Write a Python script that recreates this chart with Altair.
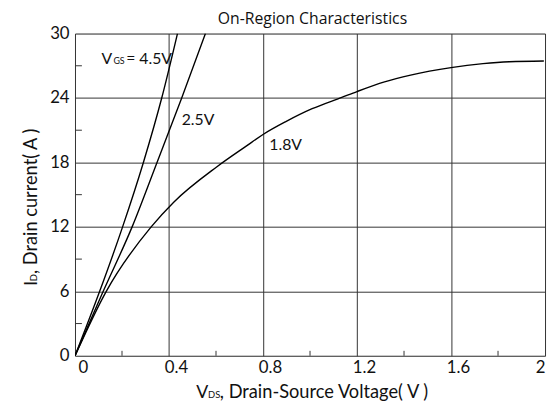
import altair as alt
import pandas as pd

# ---- data ----
vds_45 = [0, 0.105, 0.2025, 0.291, 0.369, 0.436]
id_45 = [0, 6, 12, 18, 24, 30]

vds_25 = [0, 0.120, 0.243, 0.349, 0.454, 0.555]
id_25 = [0, 6, 12, 18, 24, 30]

vds_18 = [0, 0.133, 0.324, 0.42, 0.604, 0.73, 0.8, 0.897, 1.009, 1.135, 1.2, 1.317, 1.428, 1.6, 1.736, 1.848, 1.995]
id_18 = [0, 6, 12, 14.3, 17.6, 19.54, 20.6, 21.8, 23.0, 24.05, 24.6, 25.5, 26.13, 26.83, 27.2, 27.38, 27.45]

x_ticks = [0, 0.4, 0.8, 1.2, 1.6, 2]
y_ticks = [0, 6, 12, 18, 24, 30]
x_minor = [0.2, 0.6, 1.0, 1.4, 1.8]
y_minor = [3, 9, 15, 21, 27]

label_text = ["2.5V", "1.8V"]
label_x = [0.454, 0.827]
label_y = [21.5, 19.15]

vgs_x = [0.113]
vgs_y = [27.2]

W, H = 477, 327
FONT = "Lato"

rows = []
for name, xs, ys in [("4.5V", vds_45, id_45), ("2.5V", vds_25, id_25), ("1.8V", vds_18, id_18)]:
    for a, b in zip(xs, ys):
        rows.append({"series": name, "vds": a, "id": b})
df = pd.DataFrame(rows)

xscale = alt.Scale(domain=[0, 2], nice=False, zero=False)
yscale = alt.Scale(domain=[0, 30], nice=False, zero=False)

xaxis = alt.Axis(values=x_ticks, title=None, grid=True, gridColor="#333", gridWidth=1, format="~g",
                 ticks=False, domain=False, labelFont=FONT, labelFontSize=17, labelColor="#111",
                 labelPadding=4, labelFlush=True,
                 labelOffset={"expr": "datum.value == 0 ? 3 : (datum.value >= 2 ? 0 : 7)"})
yaxis = alt.Axis(values=y_ticks, title=None, grid=True, gridColor="#333", gridWidth=1,
                 ticks=False, domain=False, labelFont=FONT, labelFontSize=17, labelColor="#111",
                 labelPadding=6)

lines = alt.Chart(df).mark_line(color="black", strokeWidth=1.4, interpolate="monotone", clip=True).encode(
    x=alt.X("vds:Q", scale=xscale, axis=xaxis),
    y=alt.Y("id:Q", scale=yscale, axis=yaxis),
    detail="series:N",
)

xm = alt.Chart(pd.DataFrame({"v": x_minor})).mark_rule(color="#333", strokeWidth=1).encode(
    x=alt.X("v:Q", scale=xscale), y=alt.value(H), y2=alt.value(H - 5))
ym = alt.Chart(pd.DataFrame({"v": y_minor})).mark_rule(color="#333", strokeWidth=1).encode(
    y=alt.Y("v:Q", scale=yscale), x=alt.value(0), x2=alt.value(7))

lab = alt.Chart(pd.DataFrame({"t": label_text, "x": label_x, "y": label_y})).mark_text(
    align="left", baseline="alphabetic", font=FONT, fontSize=16, color="#111").encode(
    x=alt.X("x:Q", scale=xscale), y=alt.Y("y:Q", scale=yscale), text="t:N")

vgs_df = pd.DataFrame({"x": vgs_x, "y": vgs_y})
vgs_base = alt.Chart(vgs_df).encode(x=alt.X("x:Q", scale=xscale), y=alt.Y("y:Q", scale=yscale))
vgs_v = vgs_base.mark_text(align="left", baseline="alphabetic", font=FONT, fontSize=16, color="#111", text="V")
vgs_s = vgs_base.mark_text(align="left", baseline="alphabetic", font=FONT, fontSize=9, color="#111", text="GS", dx=12)
vgs_r = vgs_base.mark_text(align="left", baseline="alphabetic", font=FONT, fontSize=16, color="#111", text="= 4.5V", dx=25)

one = pd.DataFrame({"a": [0]})
def t(txt, x, y, size, angle=0, align="left", font=FONT):
    return alt.Chart(one).mark_text(align=align, baseline="alphabetic", font=font, fontSize=size,
                                    color="#111", text=txt, angle=angle).encode(
        x=alt.value(x), y=alt.value(y))

xt = t("V", 123, 369.7, 18) + t("DS", 135, 369.7, 9.5) + t(", Drain-Source Voltage( V )", 147, 369.7, 18.5)
yt = t("I", -39, 256, 18, 270) + t("D", -39, 251.5, 9.5, 270) + t(", Drain current( A )", -39, 244, 18.5, 270)
tt = t("On-Region Characteristics", 241, -9.5, 16, 0, "center", "Open Sans")

chart = alt.layer(lines, xm, ym, lab, vgs_v, vgs_s, vgs_r, xt, yt, tt).properties(
    width=W, height=H,
    padding={"left": 68, "top": 23, "right": 2, "bottom": 45},
    autosize=alt.AutoSizeParams(type="none"),
).configure_view(stroke="#222", strokeWidth=1).configure(background="white")

chart.save("out.html", embed_options={"renderer": "svg", "actions": False})
